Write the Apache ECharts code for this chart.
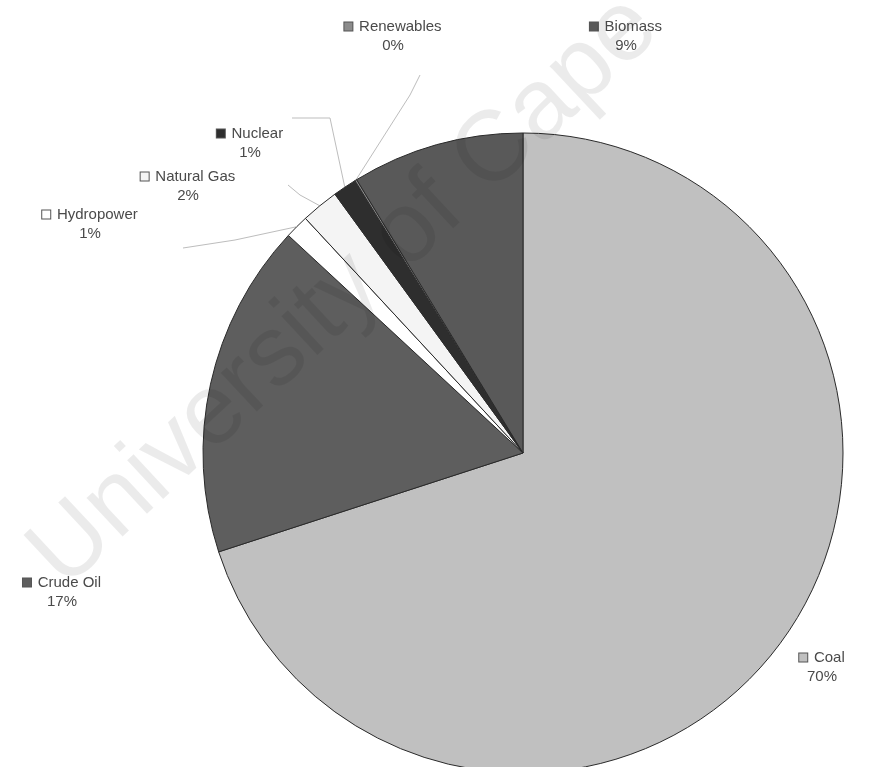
<!DOCTYPE html>
<html>
<head>
<meta charset="utf-8">
<title>Energy supply mix</title>
<script src="https://cdn.jsdelivr.net/npm/echarts@6/dist/echarts.min.js"></script>
<style>
    html, body { margin: 0; padding: 0; background: #fff; }
    #chart { width: 873px; height: 767px; }
</style>
</head>
<body>
<div id="chart"></div>
<script>
// data (shares of primary energy, %)
var sources = ['Coal', 'Crude Oil', 'Hydropower', 'Natural Gas', 'Nuclear', 'Renewables', 'Biomass'];
var shares = [70.0, 16.9, 1.2, 1.9, 1.2, 0.1, 8.7];

var colors = ['#c0c0c0', '#5e5e5e', '#ffffff', '#f4f4f4', '#2e2e2e', '#8c8c8c', '#595959'];
var showLine = [false, false, true, true, true, true, false];

var chart = function () {
    var myChart = echarts.init(document.getElementById('chart'));

    var cx = 523, cy = 453, r = 320;

    // label spots (centre x, top y) and the bend of each leader line
    var spots = [[822, 648], [62, 573], [90, 205], [188, 167], [250, 124], [393, 17], [626, 17]];
    var bends = [null, null, [[235, 240], [183, 248]], [[300, 195], [288, 185]],
        [[330, 118], [292, 118]], [[410, 95], [420, 75]], null];

    // mid angle of each slice, clockwise from 12 o'clock
    var total = 0, i;
    for (i = 0; i < shares.length; i++) total += shares[i];
    var mids = [], acc = 0;
    for (i = 0; i < shares.length; i++) {
        mids.push((acc + shares[i] / 2) / total * Math.PI * 2);
        acc += shares[i];
    }

    var rich = {
        name: {fontSize: 15, color: '#4a4a4a', lineHeight: 19},
        pct: {fontSize: 15, color: '#4a4a4a', lineHeight: 19}
    };
    var data = [];
    for (i = 0; i < sources.length; i++) {
        rich['sq' + i] = {width: 8, height: 8, backgroundColor: colors[i], borderColor: '#555', borderWidth: 1};
        data.push({
            name: sources[i],
            value: shares[i],
            itemStyle: {color: colors[i]},
            labelLine: {show: showLine[i]}
        });
    }

    var option = {
        backgroundColor: '#fff',
        animation: false,
        series: [
            {
                type: 'pie',
                center: [cx, cy],
                radius: r,
                startAngle: 90,
                clockwise: true,
                avoidLabelOverlap: false,
                itemStyle: {borderColor: '#2a2a2a', borderWidth: 1},
                label: {
                    show: true,
                    position: 'outside',
                    fontFamily: 'Liberation Sans, Arial, sans-serif',
                    align: 'center',
                    formatter: function (p) {
                        return '{sq' + p.dataIndex + '| }  {name|' + p.name + '}\n{pct|' + Math.round(p.percent) + '%}';
                    },
                    rich: rich
                },
                labelLine: {lineStyle: {color: '#bdbdbd', width: 1}},
                labelLayout: function (p) {
                    var k = p.dataIndex;
                    var out = {x: spots[k][0], y: spots[k][1], align: 'center', verticalAlign: 'top'};
                    if (bends[k]) {
                        var a = mids[k];
                        var edge = [cx + r * Math.sin(a), cy - r * Math.cos(a)];
                        out.labelLinePoints = [edge, bends[k][0], bends[k][1]];
                    }
                    return out;
                },
                data: data
            }
        ],
        graphic: [
            {
                // scanned watermark
                type: 'text',
                x: 80,
                y: 607,
                rotation: 43 * Math.PI / 180,
                z: 100,
                silent: true,
                style: {
                    text: 'University of Cape Town',
                    font: '100px Liberation Sans, Arial, sans-serif',
                    fill: 'rgba(0,0,0,0.08)',
                    textVerticalAlign: 'bottom'
                }
            }
        ]
    };

    myChart.setOption(option);
};

chart();
</script>
</body>
</html>
